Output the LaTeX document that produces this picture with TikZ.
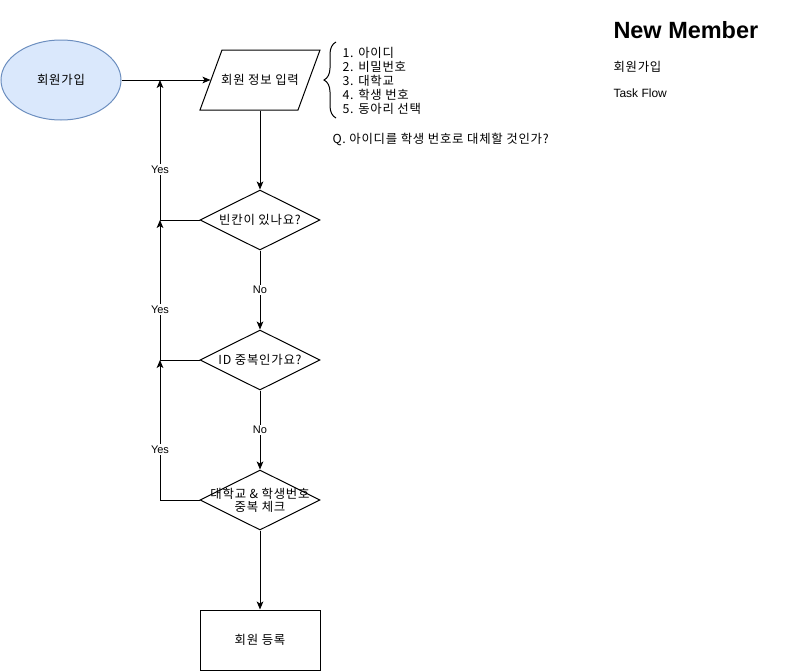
\documentclass[tikz,border=0pt]{standalone}
\usepackage{fontspec}
\setmainfont{Liberation Sans}
\newfontfamily\kr[LetterSpace=6]{Noto Sans CJK KR}
\usepackage{tikz}
\usetikzlibrary{arrows,arrows.meta,positioning,shapes,decorations.pathreplacing}
\definecolor{startfill}{HTML}{DAE8FC}
\definecolor{startline}{HTML}{6C8EBF}

\begin{document}
\begin{tikzpicture}[x=0.75pt,y=-0.75pt,line width=0.75pt,>={Stealth[length=6pt,width=5pt,inset=1.5pt]},
    txt/.style={font=\kr\fontsize{9.3}{10.5}\selectfont},
    decision/.style={diamond,draw,minimum width=90pt,minimum height=45pt,inner sep=0pt},
    branch/.style={font=\fontsize{8.25}{10}\selectfont,fill=white,inner sep=1pt}]
      \useasboundingbox (0,0) rectangle (799,671);

      \node[ellipse,draw=startline,fill=startfill,minimum width=90pt,minimum height=60pt,txt] (START) at (61,80) {회원가입};
      \draw (222,50) -- (320,50) -- (298,110) -- (200,110) -- cycle;
      \node[minimum width=73.5pt,minimum height=45pt,inner sep=0pt,txt] (INPUT) at (260,80) {회원 정보 입력};

      \node[decision,label={[txt]center:빈칸이 있나요?}] (Q1) at (260,220) {};
      \node[decision,label={[txt]center:ID 중복인가요?}] (Q2) at (260,360) {};
      \node[decision,label={[txt,align=center,font=\kr\fontsize{9.3}{10}\selectfont]center:대학교 \& 학생번호\\중복 체크}] (Q3) at (260,500) {};
      \node[draw,minimum width=90pt,minimum height=45pt,txt] (REG) at (260,640) {회원 등록};

      \coordinate (J1) at (160,80);
      \coordinate (J2) at (160,220);
      \coordinate (J3) at (160,360);

      \draw[->] (START) -- (INPUT);
      \draw[->] (INPUT) -- (Q1);
      \draw[->] (Q1) -- node[branch] {No} (Q2);
      \draw[->] (Q2) -- node[branch] {No} (Q3);
      \draw[->] (Q3) -- (REG);
      \draw[->] (Q1.west) -| node[branch,pos=0.68] {Yes} (J1);
      \draw[->] (Q2.west) -| node[branch,pos=0.68] {Yes} (J2);
      \draw[->] (Q3.west) -| node[branch,pos=0.68] {Yes} (J3);

      \draw[decorate,decoration={brace,amplitude=9pt}] (336,118) -- (336,42);
      \node[txt,align=left,anchor=west,inner sep=0pt] (FIELDS) at (342,81)
        {1. 아이디\\2. 비밀번호\\3. 대학교\\4. 학생 번호\\5. 동아리 선택};
      \node[txt,anchor=west,inner sep=0pt] (QUESTION) at (332,139) {Q. 아이디를 학생 번호로 대체할 것인가?};

      \node[anchor=west,inner sep=0pt,font=\bfseries\fontsize{17.6}{20}\selectfont] (TITLE) at (613,30) {New Member};
      \node[txt,anchor=west,inner sep=0pt] (SUB) at (613,67) {회원가입};
      \node[anchor=west,inner sep=0pt,font=\fontsize{9}{10.5}\selectfont] (FLOW) at (613,93) {Task Flow};
    \end{tikzpicture}
\end{document}
